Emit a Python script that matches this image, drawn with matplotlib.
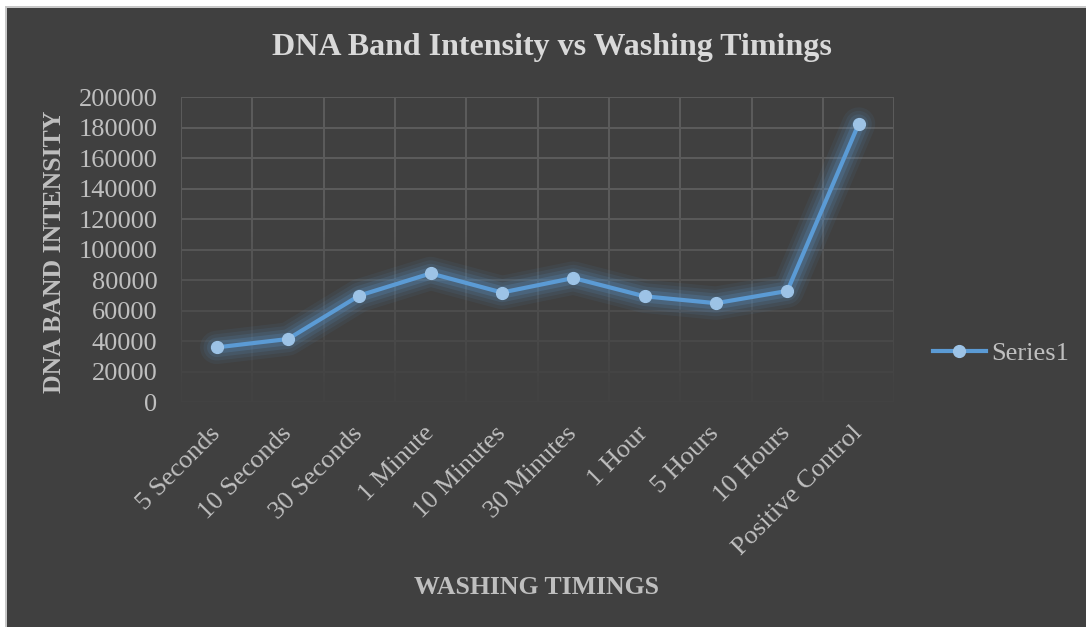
import numpy as np
import matplotlib.pyplot as plt
from matplotlib.patches import Rectangle
from matplotlib.collections import LineCollection
from matplotlib.lines import Line2D

# Washing timings and measured band intensity
timings = ['5 Seconds', '10 Seconds', '30 Seconds', '1 Minute', '10 Minutes',
           '30 Minutes', '1 Hour', '5 Hours', '10 Hours', 'Positive Control']
intensity = [36000, 41500, 70000, 84500, 72000, 81500, 69500, 65000, 73000, 182500]
y_ticks = [0, 20000, 40000, 60000, 80000, 100000, 120000, 140000, 160000, 180000, 200000]

bg = '#404040'
line_col = '#5B9BD5'
marker_col = '#9DC3E6'
text_col = '#BFBFBF'

plt.rcParams['font.family'] = ['Liberation Serif', 'DejaVu Serif']

fig = plt.figure(figsize=(10.86, 6.27), dpi=100)
fig.patch.set_facecolor('white')
# chart area with a thin grey rim on the left and top
fig.patches.append(Rectangle((5 / 1086, 0), 1, 1 - 6 / 627, transform=fig.transFigure,
                             facecolor='#c8c8c8', edgecolor='none', zorder=-11))
fig.patches.append(Rectangle((7 / 1086, 0), 1, 1 - 8 / 627, transform=fig.transFigure,
                             facecolor=bg, edgecolor='none', zorder=-10))

ax = fig.add_axes([181 / 1086, 1 - 402.3 / 627, (894.3 - 181) / 1086, (402.3 - 97.3) / 627])
ax.set_facecolor('none')
for s in ax.spines.values():
    s.set_visible(False)

x = np.arange(len(timings))
ax.set_xlim(-0.5, len(timings) - 0.5)
ax.set_ylim(0, 200000)

# gridlines fading out towards the bottom of the plot area
def grid_color(frac):
    top = np.array([0x5c, 0x5c, 0x5c]) / 255
    bot = np.array([0x43, 0x43, 0x43]) / 255
    t = np.clip((frac - 0.05) / 0.6, 0, 1)
    return tuple(bot + (top - bot) * t)

for v in y_ticks:
    ax.axhline(v, color=grid_color(v / 200000), lw=1.4, zorder=0)

ys = np.linspace(0, 200000, 60)
segs, cols = [], []
for xv in np.arange(-0.5, len(timings), 1.0):
    for a, b in zip(ys[:-1], ys[1:]):
        segs.append([(xv, a), (xv, b)])
        cols.append(grid_color((a + b) / 2 / 200000))
ax.add_collection(LineCollection(segs, colors=cols, lw=1.4, zorder=0))

# soft glow under the series
for w, al in [(24, 0.07), (19, 0.09), (14, 0.13), (9, 0.2)]:
    ax.plot(x, intensity, color=line_col, lw=w, alpha=al, solid_capstyle='round',
            solid_joinstyle='round', zorder=1)
ax.plot(x, intensity, color=line_col, lw=3, marker='o', ms=8.5,
        mfc=marker_col, mec=marker_col, zorder=3)

ax.set_xticks(x)
ax.set_xticklabels(timings, rotation=45, ha='right', va='center',
                   rotation_mode='anchor', fontsize=19, color=text_col)
ax.set_yticks(y_ticks)
ax.set_yticklabels([str(v) for v in y_ticks], fontsize=19, color=text_col)
ax.tick_params(axis='x', length=0, pad=20)
ax.tick_params(axis='y', length=0, pad=17)

fig.text(552 / 1086, 1 - 47 / 627, 'DNA Band Intensity vs Washing Timings',
         ha='center', va='center', fontsize=23, fontweight='bold', color='#D9D9D9')
fig.text(537 / 1086, 1 - 588 / 627, 'WASHING TIMINGS', ha='center', va='center',
         fontsize=18.5, fontweight='bold', color=text_col)
fig.text(55 / 1086, 1 - 252 / 627, 'DNA BAND INTENSITY', ha='center', va='center',
         rotation=90, fontsize=18.5, fontweight='bold', color=text_col)

handle = Line2D([], [], color=line_col, lw=3, marker='o', ms=8.5,
                mfc=marker_col, mec=marker_col)
fig.legend([handle], ['Series1'], loc='center left',
           bbox_to_anchor=(933 / 1086, 1 - 353 / 627), frameon=False,
           fontsize=19, labelcolor=text_col, handlelength=2.0, handletextpad=0.2,
           borderpad=0, borderaxespad=0)

fig.savefig('out.png', dpi=100, facecolor=fig.get_facecolor())
